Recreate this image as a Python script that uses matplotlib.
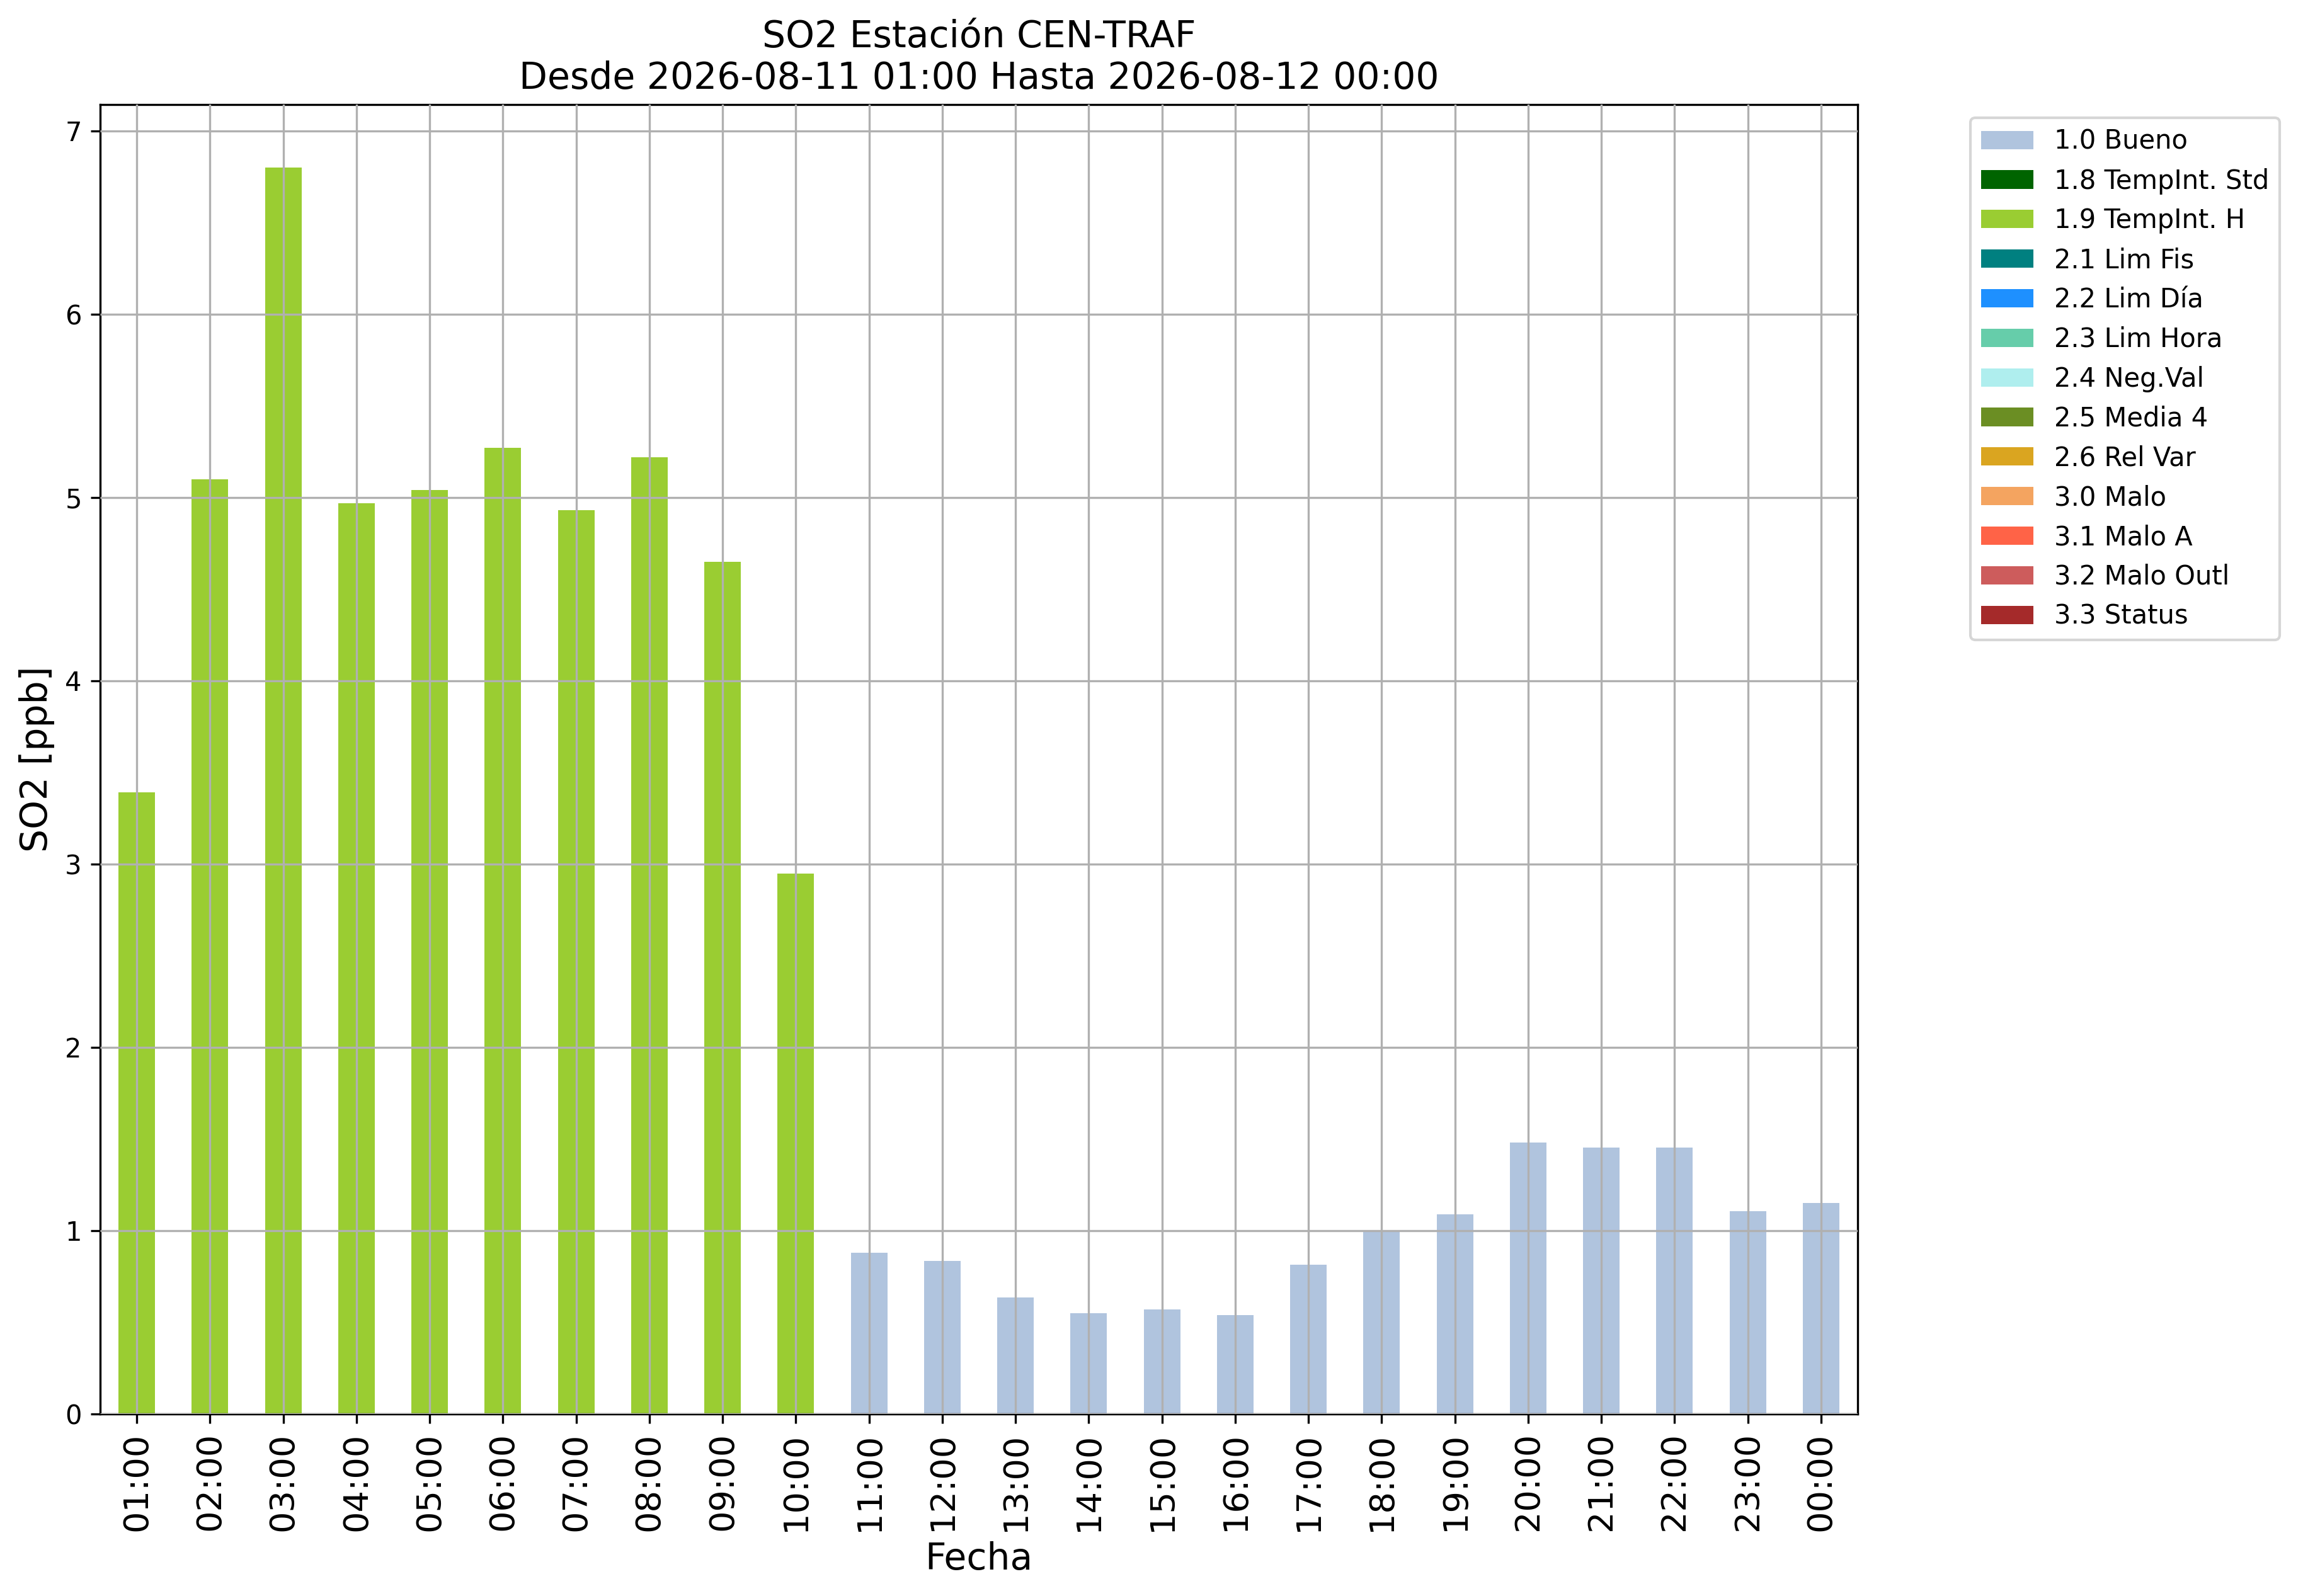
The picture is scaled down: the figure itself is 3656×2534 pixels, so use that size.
import matplotlib
matplotlib.use("Agg")
import matplotlib.pyplot as plt
from matplotlib.patches import Patch

hours = ["01:00", "02:00", "03:00", "04:00", "05:00", "06:00", "07:00", "08:00",
         "09:00", "10:00", "11:00", "12:00", "13:00", "14:00", "15:00", "16:00",
         "17:00", "18:00", "19:00", "20:00", "21:00", "22:00", "23:00", "00:00"]
values = [3.39, 5.10, 6.80, 4.97, 5.04, 5.27, 4.93, 5.22, 4.65, 2.95,
          0.88, 0.835, 0.635, 0.55, 0.57, 0.54, 0.815, 1.00, 1.09, 1.48,
          1.455, 1.455, 1.105, 1.15]
flags = ["1.9 TempInt. H"] * 10 + ["1.0 Bueno"] * 14

categories = ["1.0 Bueno", "1.8 TempInt. Std", "1.9 TempInt. H", "2.1 Lim Fis",
              "2.2 Lim Día", "2.3 Lim Hora", "2.4 Neg.Val", "2.5 Media 4",
              "2.6 Rel Var", "3.0 Malo", "3.1 Malo A", "3.2 Malo Outl", "3.3 Status"]
colors = ["lightsteelblue", "darkgreen", "yellowgreen", "teal", "dodgerblue",
          "mediumaquamarine", "paleturquoise", "olivedrab", "goldenrod",
          "sandybrown", "tomato", "indianred", "brown"]

title = "SO2 Estación CEN-TRAF\nDesde 2026-08-11 01:00 Hasta 2026-08-12 00:00"

fig = plt.figure(figsize=(3656 / 300, 2534 / 300), dpi=300)
ax = fig.add_axes([159 / 3656, 1 - 2245 / 2534, (2949 - 159) / 3656, (2245 - 166) / 2534])

cmap = dict(zip(categories, colors))
x = list(range(len(hours)))
for cat in categories:
    xs = [i for i in x if flags[i] == cat]
    ys = [values[i] for i in x if flags[i] == cat]
    if xs:
        ax.bar(xs, ys, width=0.5, color=cmap[cat], zorder=1)

ax.set_xlim(-0.5, len(hours) - 0.5)
ax.set_ylim(0, 7.144)
ax.set_xticks(x)
ax.set_xticklabels(hours, rotation=90, fontsize=13)
ax.tick_params(axis="y", labelsize=10)
ax.grid(True, color="#b0b0b0", linewidth=0.8)
ax.set_axisbelow(False)
ax.set_xlabel("Fecha", fontsize=14)
ax.set_ylabel("SO2 [ppb]", fontsize=14)
ax.set_title(title, fontsize=14)

handles = [Patch(facecolor=c, label=l) for l, c in zip(categories, colors)]
fig.legend(handles=handles, loc="upper left", bbox_to_anchor=(3128 / 3656, 1 - 187 / 2534),
           bbox_transform=fig.transFigure, borderaxespad=0, fontsize=10)

fig.savefig("out.png", dpi=300)
